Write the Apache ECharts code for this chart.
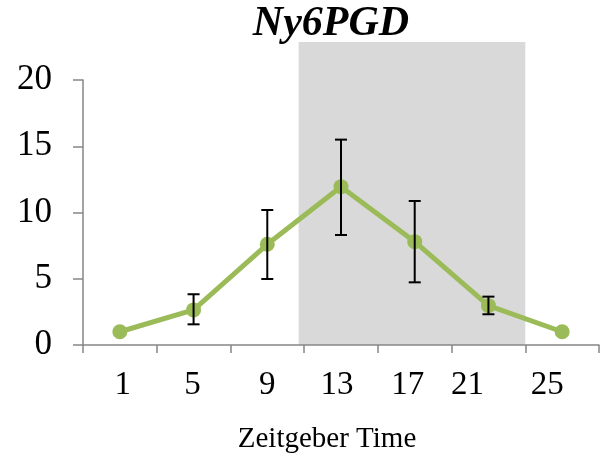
<!DOCTYPE html>
<html>
<head>
<meta charset="utf-8">
<script src="https://cdn.jsdelivr.net/npm/echarts@6/dist/echarts.min.js"></script>
<style>html,body{margin:0;padding:0;background:#fff}#c{width:611px;height:462px}</style>
</head>
<body>
<div id="c"></div>
<script>
const categories = ['1', '5', '9', '13', '17', '21', '25'];
const meanValues = [1.0, 2.65, 7.6, 11.95, 7.8, 2.97, 1.0];
const errLow = [1.0, 1.56, 4.98, 8.3, 4.73, 2.32, 1.0];
const errHigh = [1.0, 3.83, 10.19, 15.5, 10.87, 3.65, 1.0];
const yTicks = [0, 5, 10, 15, 20];
const shadeRange = [10.7, 23.0]; // Zeitgeber hours (dark phase)
const ztRange = [-1, 27];        // category edges in ZT hours

const labelShift = [3, -1, 0, -4, -7, -21, -15];
const serif = '"Liberation Serif", "DejaVu Serif", serif';

const rich = {};
categories.forEach((c, i) => {
  const s = labelShift[i];
  rich['l' + i] = {
    fontFamily: serif, fontSize: 33, color: '#000',
    padding: s >= 0 ? [0, 0, 0, 2 * s] : [0, -2 * s, 0, 0]
  };
});

const chart = echarts.init(document.getElementById('c'), null, {renderer: 'canvas'});
chart.setOption({
  animation: false,
  backgroundColor: '#fff',
  title: {
    text: 'Ny6PGD', left: 326, top: -2, textAlign: 'center',
    textStyle: {fontFamily: serif, fontSize: 42, fontWeight: 'bold', fontStyle: 'italic', color: '#000'}
  },
  grid: [
    {left: 83, right: 12, top: 42, bottom: 117},
    {left: 83, right: 12, top: 80, bottom: 117}
  ],
  xAxis: [
    {gridIndex: 0, type: 'value', min: ztRange[0], max: ztRange[1], show: false},
    {
      gridIndex: 1, type: 'category', data: categories, boundaryGap: true,
      axisLine: {lineStyle: {color: '#868686', width: 1.5}},
      axisTick: {show: true, length: 8, lineStyle: {color: '#868686', width: 1.5}},
      axisLabel: {
        margin: 24,
        formatter: (v, i) => '{l' + i + '|' + v + '}',
        rich: rich
      },
      name: 'Zeitgeber Time', nameLocation: 'middle', nameGap: 80,
      nameTextStyle: {fontFamily: serif, fontSize: 29, color: '#000', padding: [0, 28, 0, 0]}
    }
  ],
  yAxis: [
    {gridIndex: 0, type: 'value', min: 0, max: 1, show: false},
    {
      gridIndex: 1, type: 'value', min: yTicks[0], max: yTicks[yTicks.length - 1], interval: 5,
      splitLine: {show: false},
      axisLine: {show: true, lineStyle: {color: '#868686', width: 1.5}},
      axisTick: {show: true, length: 10, lineStyle: {color: '#868686', width: 1.5}},
      axisLabel: {margin: 31, fontFamily: serif, fontSize: 35, color: '#000'}
    }
  ],
  series: [
    {
      type: 'custom', xAxisIndex: 0, yAxisIndex: 0, z: 0, silent: true,
      data: [[shadeRange[0], shadeRange[1]]],
      renderItem: (params, api) => {
        const p0 = api.coord([api.value(0), 1]);
        const p1 = api.coord([api.value(1), 0]);
        return {type: 'rect', shape: {x: p0[0], y: p0[1], width: p1[0] - p0[0], height: p1[1] - p0[1]},
          style: {fill: '#D9D9D9'}};
      }
    },
    {
      type: 'line', xAxisIndex: 1, yAxisIndex: 1, z: 3,
      data: meanValues, symbol: 'circle', symbolSize: 15,
      lineStyle: {color: '#9BBB59', width: 5},
      itemStyle: {color: '#9BBB59'}
    },
    {
      type: 'custom', xAxisIndex: 1, yAxisIndex: 1, z: 4, silent: true,
      data: categories.map((c, i) => [i, errLow[i], errHigh[i]]),
      renderItem: (params, api) => {
        const lo = api.coord([api.value(0), api.value(1)]);
        const hi = api.coord([api.value(0), api.value(2)]);
        if (Math.abs(hi[1] - lo[1]) < 0.5) return null;
        const hw = 6;
        const st = {stroke: '#000', lineWidth: 2};
        return {type: 'group', children: [
          {type: 'line', shape: {x1: hi[0], y1: hi[1], x2: lo[0], y2: lo[1]}, style: st},
          {type: 'line', shape: {x1: hi[0] - hw, y1: hi[1], x2: hi[0] + hw, y2: hi[1]}, style: st},
          {type: 'line', shape: {x1: lo[0] - hw, y1: lo[1], x2: lo[0] + hw, y2: lo[1]}, style: st}
        ]};
      }
    }
  ]
});
</script>
</body>
</html>
